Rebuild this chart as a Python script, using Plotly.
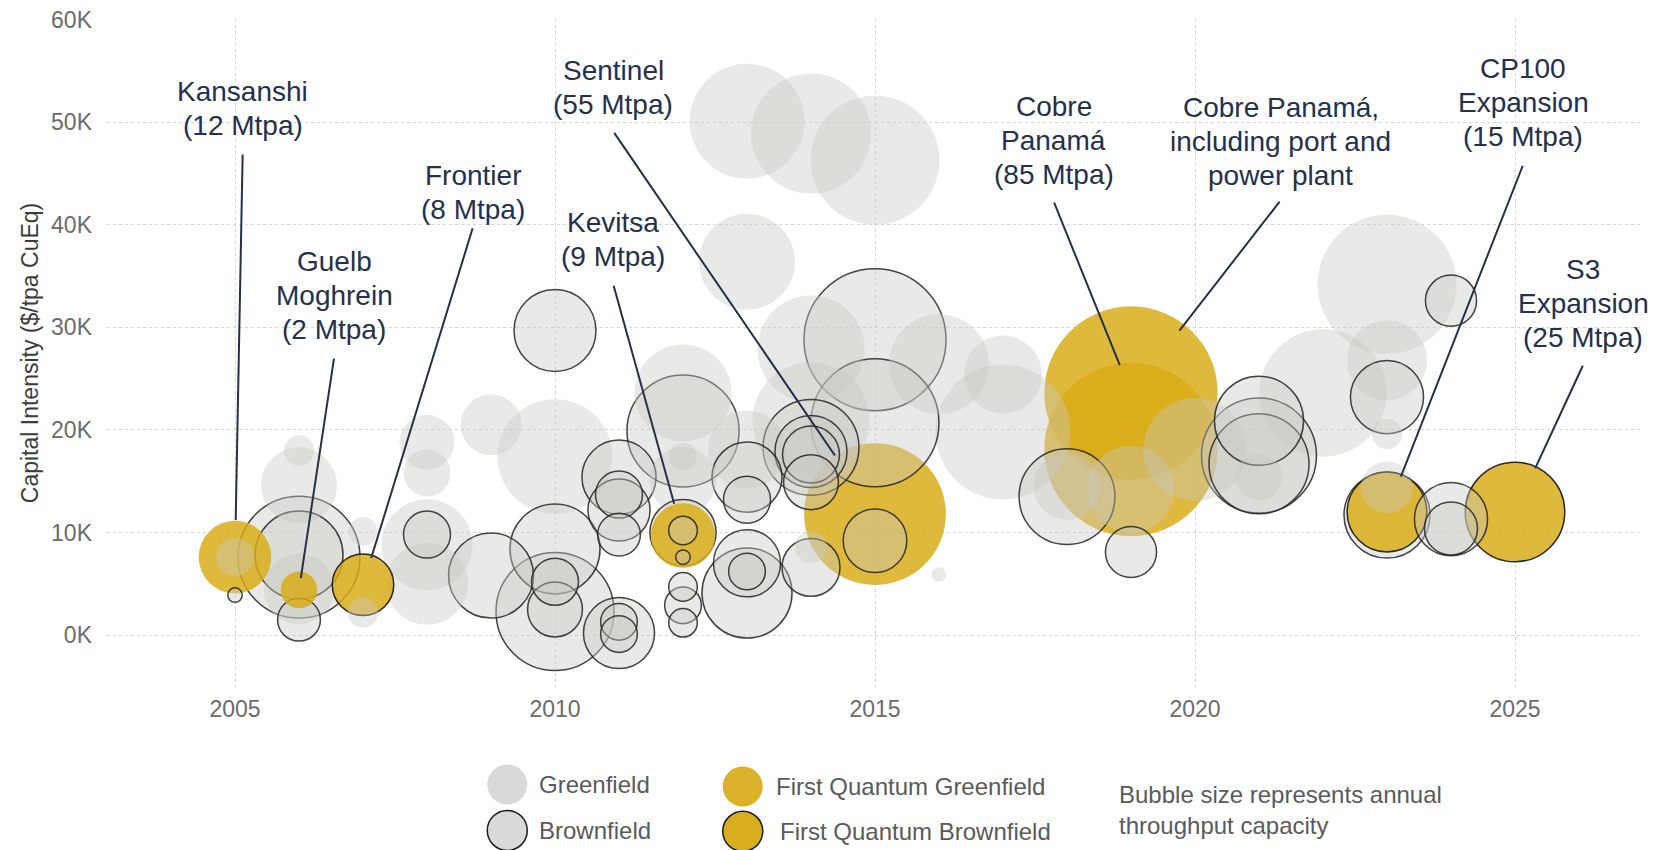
import numpy as np
import pandas as pd
import plotly.graph_objects as go

# ---------------- data ----------------
# category codes: G = Greenfield, B = Brownfield,
# FQG = First Quantum Greenfield, FQB = First Quantum Brownfield
years = [
    2005, 2005, 2005,
    2006, 2006, 2006, 2006, 2006, 2006, 2006,
    2007, 2007, 2007,
    2008, 2008, 2008, 2008, 2008,
    2009, 2009,
    2010, 2010, 2010, 2010, 2010, 2010,
    2011, 2011, 2011, 2011, 2011, 2011, 2011,
    2012, 2012, 2012, 2012, 2012, 2012, 2012, 2012, 2012, 2012, 2012,
    2013, 2013, 2013, 2013, 2013, 2013, 2013, 2013,
    2014, 2014, 2014, 2014, 2014, 2014, 2014, 2014, 2014,
    2015, 2015, 2015, 2015, 2015,
    2016, 2016,
    2017, 2017,
    2018, 2018,
    2019, 2019, 2019, 2019,
    2020,
    2021, 2021, 2021, 2021,
    2022,
    2023, 2023, 2023, 2023, 2023, 2023, 2023,
    2024, 2024, 2024,
    2025,
]
capital_intensity = [  # $/tpa CuEq
    7600, 7600, 3900,
    18000, 14600, 7600, 7800, 4500, 4400, 1500,
    10100, 4900, 2200,
    18800, 15800, 8800, 9800, 5000,
    20500, 5800,
    29700, 17400, 8400, 5200, 2500, 2300,
    15400, 13700, 12200, 9800, 200, 1300, 100,
    23600, 19900, 17400, 15100, 9700, 10000, 10200, 7600, 4700, 2900, 1200,
    50100, 36400, 18100, 15400, 13200, 7000, 6200, 4100,
    48900, 27900, 20900, 18300, 17900, 17600, 14900, 6600, 8600,
    46300, 28800, 20700, 11800, 9200,
    26400, 5900,
    25400, 19800,
    13500, 14500,
    23600, 18100, 8100, 14200,
    18100,
    20900, 17500, 16700, 15400,
    23600,
    34200, 26800, 23200, 19600, 14400, 12000, 11700,
    32600, 11300, 10400,
    12000,
]
capacity_mtpa = [  # annual throughput capacity
    12, 2.2, 0.02,
    1.1, 13.4, 39.5, 18.9, 11.2, 2, 3.1,
    0.9, 8, 1.1,
    6.0, 4.0, 20.4, 4.0, 16.0,
    7.8, 17.4,
    16.0, 34.6, 19.9, 4.0, 6.0, 36.7,
    12.6, 4.0, 8.2, 3.1, 11.4, 2.0, 2.0,
    23.6, 32.7, 0.8, 9.9, 9, 9.6, 0.9, 0.02, 0.9, 2.0, 0.9,
    34.6, 23.0, 14.2, 11.0, 4.0, 9.9, 2.0, 19.9,
    38.1, 29.5, 36.0, 23.0, 11.8, 6.6, 6.0, 6.9, 1.3,
    44.7, 55.2, 43.9, 55, 8.7,
    25.3, 0.02,
    14.2, 49.4,
    23.0, 9.9,
    85, 85, 5.0, 18.4,
    27.0,
    19.4, 34.6, 25.3, 4.0,
    43.5,
    52.7, 15.1, 12.2, 1.1, 5.2, 15, 17.9,
    5.0, 12.2, 5.5,
    25,
]
category = [
    "FQG", "G", "B",
    "G", "G", "B", "B", "G", "FQG", "B",
    "G", "FQB", "G",
    "G", "G", "G", "B", "G",
    "G", "B",
    "B", "G", "B", "B", "B", "B",
    "B", "B", "B", "B", "B", "B", "B",
    "G", "B", "G", "G", "FQG", "B", "B", "B", "B", "B", "B",
    "G", "G", "G", "B", "B", "B", "B", "B",
    "G", "G", "G", "B", "B", "B", "B", "B", "G",
    "G", "B", "B", "FQG", "B",
    "G", "G",
    "G", "G",
    "B", "G",
    "FQG", "FQG", "B", "G",
    "G",
    "B", "B", "B", "G",
    "G",
    "G", "G", "B", "G", "G", "FQB", "B",
    "B", "B", "B",
    "FQB",
]

# axis ticks
y_tick_values = [0, 10000, 20000, 30000, 40000, 50000, 60000]
y_tick_labels = ["0K", "10K", "20K", "30K", "40K", "50K", "60K"]
x_tick_values = [2005, 2010, 2015, 2020, 2025]

# callouts: text lines and the bubble each one points at (year, $/tpa)
callout_lines = [
    ["Kansanshi", "(12 Mtpa)"],
    ["Guelb", "Moghrein", "(2 Mtpa)"],
    ["Frontier", "(8 Mtpa)"],
    ["Kevitsa", "(9 Mtpa)"],
    ["Sentinel", "(55 Mtpa)"],
    ["Cobre", "Panamá", "(85 Mtpa)"],
    ["Cobre Panamá,", "including port and", "power plant"],
    ["CP100", "Expansion", "(15 Mtpa)"],
    ["S3", "Expansion", "(25 Mtpa)"],
]
callout_target_year = [2005, 2006, 2007, 2012, 2015, 2019, 2019, 2023, 2025]
callout_target_value = [7600, 4400, 4900, 9700, 11800, 23600, 23600, 12000, 12000]

# ---------------- layout / style parameters ----------------
label_x = [2005.12, 2006.55, 2008.72, 2010.91, 2010.91, 2017.79, 2021.34, 2025.13, 2026.07]
label_y = [51300, 33100, 43100, 38600, 53400, 48200, 48100, 51900, 32300]
tail_x = [2005.12, 2006.55, 2008.72, 2010.91, 2010.91, 2017.79, 2021.34, 2025.13, 2026.07]
tail_y = [47000, 27100, 39800, 34200, 49100, 42300, 42400, 45900, 26400]
line_standoff = [37, 12, 28, 33, 71, 30, 79, 38, 48]
LINE_PITCH = 34  # px between callout text lines

FONT = "Arial, 'Liberation Sans', Helvetica, sans-serif"
NAVY = "#25304a"

style = {
    "G":   dict(fill="rgba(200,200,196,0.40)", line="rgba(0,0,0,0)", lw=0),
    "B":   dict(fill="rgba(200,200,196,0.40)", line="rgba(35,35,35,0.85)", lw=1.5),
    "FQG": dict(fill="rgba(217,172,22,0.84)", line="rgba(0,0,0,0)", lw=0),
    "FQB": dict(fill="rgba(217,172,22,0.84)", line="rgba(20,20,20,0.9)", lw=1.5),
}

df = pd.DataFrame({
    "year": years,
    "value": capital_intensity,
    "capacity": capacity_mtpa,
    "category": category,
})
# bubble diameter (px) grows with the square root of capacity
df["size_px"] = 12 + 17.5 * np.sqrt(df["capacity"])
df = df.sort_values("capacity", ascending=False, kind="stable").reset_index(drop=True)

fig = go.Figure()
fig.add_trace(go.Scatter(
    x=df["year"], y=df["value"], mode="markers",
    marker=dict(
        size=df["size_px"], sizemode="diameter", sizeref=1, opacity=1,
        color=[style[c]["fill"] for c in df["category"]],
        line=dict(color=[style[c]["line"] for c in df["category"]],
                  width=[style[c]["lw"] for c in df["category"]]),
    ),
    hoverinfo="skip", showlegend=False,
))

annotations = []
for i, lines in enumerate(callout_lines):
    n = len(lines)
    for j, ln in enumerate(lines):
        annotations.append(dict(
            x=label_x[i], y=label_y[i], xref="x", yref="y", text=ln,
            showarrow=False, xanchor="center", yanchor="middle", align="center",
            yshift=((n - 1) / 2 - j) * LINE_PITCH,
            font=dict(family=FONT, size=28, color=NAVY),
        ))
    annotations.append(dict(
        x=callout_target_year[i], y=callout_target_value[i], xref="x", yref="y",
        ax=tail_x[i], ay=tail_y[i], axref="x", ayref="y", text="",
        showarrow=True, arrowhead=0, arrowwidth=2, arrowcolor=NAVY,
        standoff=line_standoff[i],
    ))

# custom legend (circles + labels placed below the plot)
legend_items = [
    ("Greenfield", "#d9d9d9", None, 0.2606, -0.146, 0.280),
    ("Brownfield", "#d9d9d9", "#1a1a1a", 0.2606, -0.2148, 0.280),
    ("First Quantum Greenfield", "#dab128", None, 0.4139, -0.149, 0.4341),
    ("First Quantum Brownfield", "#d9ae1e", "#1a1a1a", 0.4139, -0.216, 0.4368),
]
shapes = []
for name, fillc, linec, cx, cy, tx in legend_items:
    shapes.append(dict(
        type="circle", xref="paper", yref="paper", xsizemode="pixel", ysizemode="pixel",
        xanchor=cx, yanchor=cy, x0=-20, x1=20, y0=-20, y1=20,
        fillcolor=fillc,
        line=dict(color=linec if linec else "rgba(0,0,0,0)", width=1.5 if linec else 0),
    ))
    annotations.append(dict(
        x=tx, y=cy, xref="paper", yref="paper", text=name, showarrow=False,
        xanchor="left", yanchor="middle", font=dict(family=FONT, size=24, color="#5a5a5a"),
    ))
annotations.append(dict(
    x=0.6576, y=-0.1834, xref="paper", yref="paper",
    text="Bubble size represents annual<br>throughput capacity", showarrow=False,
    xanchor="left", yanchor="middle", align="left",
    font=dict(family=FONT, size=24, color="#5a5a5a"),
))

fig.update_layout(
    width=1678, height=850,
    margin=dict(l=107, r=35, t=19, b=163, autoexpand=False),
    paper_bgcolor="white", plot_bgcolor="white",
    font=dict(family=FONT),
    annotations=annotations, shapes=shapes,
    showlegend=False,
)
fig.update_xaxes(
    range=[2003, 2027], tickvals=x_tick_values, showgrid=True, automargin=False,
    gridcolor="#d6d6d6", griddash="dot", gridwidth=1, zeroline=False, showline=False,
    tickfont=dict(family=FONT, size=23, color="#6b6b6b"), ticks="", ticklabelstandoff=6,
)
fig.update_yaxes(
    range=[-5060, 60060], tickvals=y_tick_values, ticktext=y_tick_labels, showgrid=True,
    automargin=False,
    gridcolor="#d6d6d6", griddash="dot", gridwidth=1, zeroline=False, showline=False,
    tickfont=dict(family=FONT, size=23, color="#6b6b6b"), ticks="", ticklabelstandoff=14,
    title=dict(text="Capital Intensity ($/tpa CuEq)", standoff=6,
               font=dict(family=FONT, size=23, color="#3c3c3c")),
)

# remove the default 8px page margin so the figure fills the 1678x850 window exactly
fig.write_html(
    "out.html",
    config={"displayModeBar": False},
    post_script="document.body.style.margin='0';document.body.style.overflow='hidden';",
)
